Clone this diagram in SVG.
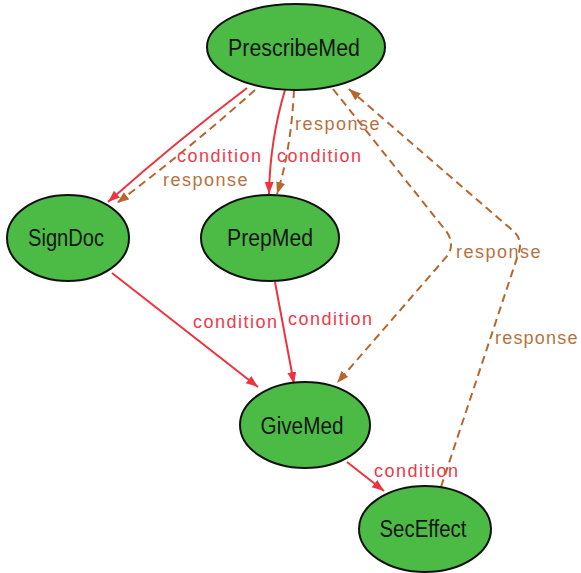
<svg xmlns="http://www.w3.org/2000/svg" width="581" height="573" viewBox="0 0 581 573">
  <defs>
    <marker id="arrow-cond" markerUnits="userSpaceOnUse" markerWidth="13" markerHeight="10" refX="12" refY="4.5" orient="auto">
      <path d="M0,0 L12,4.5 L0,9 z" fill="#ee3340"/>
    </marker>
    <marker id="arrow-resp" markerUnits="userSpaceOnUse" markerWidth="13" markerHeight="10" refX="12" refY="4.5" orient="auto">
      <path d="M0,0 L12,4.5 L0,9 z" fill="#b5672e"/>
    </marker>
  </defs>
  <style>
    .node ellipse { fill: #4cbb45; stroke: #111; stroke-width: 2; }
    .node text { font-family: "Liberation Sans", Arial, sans-serif; font-size: 23px; fill: #151515; text-anchor: middle; }
    .cond { fill: none; stroke: #ee3340; stroke-width: 2; marker-end: url(#arrow-cond); }
    .resp { fill: none; stroke: #b5672e; stroke-width: 2; stroke-dasharray: 8 5; marker-end: url(#arrow-resp); }
    .lbl { font-family: "Liberation Sans", Arial, sans-serif; font-size: 18px; letter-spacing: 1.5px; }
    .lbl-cond { fill: #ee3a4a; }
    .lbl-resp { fill: #b5723e; }
  </style>

  <!-- connectors -->
  <g id="edges">
    <path class="cond" d="M247,88 Q178,140 108,202"/>
    <path class="resp" d="M255,90 Q190,148 117,203"/>
    <path class="cond" d="M285,90 Q270,140 269,194"/>
    <path class="resp" d="M294,90 Q291,150 277,194"/>
    <path class="resp" d="M333,89 L446,231 Q455,243 448,255 L337,383"/>
    <path class="resp" d="M441,487 L519,252 Q523,238 511,229 L349,89"/>
    <path class="cond" d="M112,273 L258,387"/>
    <path class="cond" d="M275,282 L294,384"/>
    <path class="cond" d="M347,462 L384,491"/>

    <text class="lbl lbl-cond" x="177" y="162">condition</text>
    <text class="lbl lbl-resp" x="163" y="186">response</text>
    <text class="lbl lbl-resp" x="295" y="130">response</text>
    <text class="lbl lbl-cond" x="277" y="162">condition</text>
    <text class="lbl lbl-resp" x="456" y="258">response</text>
    <text class="lbl lbl-resp" x="495" y="344" style="letter-spacing:1.2px">response</text>
    <text class="lbl lbl-cond" x="193" y="328">condition</text>
    <text class="lbl lbl-cond" x="288" y="325">condition</text>
    <text class="lbl lbl-cond" x="374" y="477">condition</text>
  </g>

  <!-- nodes -->
  <g id="PrescribeMed" class="node">
    <ellipse cx="296" cy="47" rx="89" ry="43"/>
    <text x="294" y="56" textLength="132" lengthAdjust="spacingAndGlyphs">PrescribeMed</text>
  </g>
  <g id="SignDoc" class="node">
    <ellipse cx="68" cy="238" rx="61" ry="43"/>
    <text x="66" y="246" textLength="76" lengthAdjust="spacingAndGlyphs">SignDoc</text>
  </g>
  <g id="PrepMed" class="node">
    <ellipse cx="270" cy="238" rx="69" ry="43"/>
    <text x="270" y="246" textLength="86" lengthAdjust="spacingAndGlyphs">PrepMed</text>
  </g>
  <g id="GiveMed" class="node">
    <ellipse cx="305" cy="425" rx="65" ry="43"/>
    <text x="302" y="434" textLength="83" lengthAdjust="spacingAndGlyphs">GiveMed</text>
  </g>
  <g id="SecEffect" class="node">
    <ellipse cx="425" cy="529" rx="66" ry="43"/>
    <text x="423" y="537" textLength="87" lengthAdjust="spacingAndGlyphs">SecEffect</text>
  </g>
</svg>
